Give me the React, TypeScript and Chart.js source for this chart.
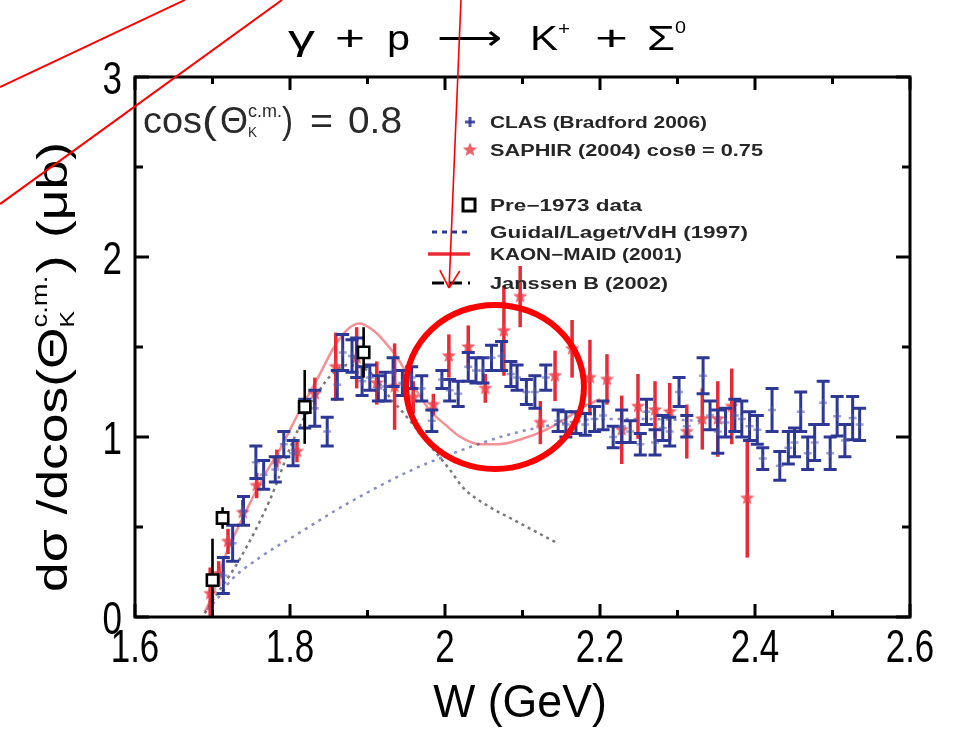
import { useEffect, useRef } from "react";
import { Chart, registerables } from "chart.js";

Chart.register(...registerables);

// ---------- measured cross sections, W in GeV, dσ/dcos in μb ----------
// CLAS (Bradford 2006)
const clasW = [
  1.714, 1.726, 1.740, 1.756, 1.766, 1.781, 1.792, 1.804, 1.819, 1.832,
  1.848, 1.861, 1.868, 1.880, 1.886, 1.893, 1.903, 1.914, 1.923, 1.933,
  1.945, 1.957, 1.970, 1.983, 1.996, 2.006, 2.017, 2.030, 2.040, 2.049,
  2.060, 2.073, 2.085, 2.093, 2.105, 2.116, 2.130, 2.146, 2.156, 2.169,
  2.181, 2.193, 2.204, 2.217, 2.228, 2.239, 2.252, 2.260, 2.271, 2.281,
  2.290, 2.302, 2.312, 2.333, 2.342, 2.352, 2.362, 2.374, 2.383, 2.393,
  2.403, 2.410, 2.422, 2.432, 2.443, 2.451, 2.459, 2.468, 2.477, 2.488,
  2.497, 2.506, 2.516, 2.526, 2.535,
];
const clasSigma = [
  0.23, 0.41, 0.59, 0.86, 0.79, 0.82, 0.96, 0.91, 1.13, 1.16,
  1.03, 1.29, 1.47, 1.45, 1.44, 1.31, 1.33, 1.27, 1.28, 1.36,
  1.30, 1.33, 1.27, 1.09, 1.32, 1.26, 1.24, 1.39, 1.37, 1.37,
  1.44, 1.45, 1.35, 1.33, 1.25, 1.25, 1.33, 1.09, 1.07, 1.08,
  1.07, 1.10, 1.12, 1.00, 1.06, 1.03, 0.96, 1.14, 0.97, 1.05,
  1.03, 1.25, 1.06, 1.34, 1.12, 1.03, 1.08, 1.12, 1.10, 1.06,
  1.04, 0.88, 1.15, 0.84, 0.94, 0.97, 1.14, 0.91, 0.97, 1.19,
  0.91, 1.115, 0.98, 1.105, 1.07,
];
const clasErr = [
  0.10, 0.10, 0.08, 0.09, 0.08, 0.07, 0.07, 0.07, 0.08, 0.10,
  0.08, 0.08, 0.10, 0.09, 0.11, 0.08, 0.07, 0.07, 0.08, 0.08,
  0.07, 0.06, 0.07, 0.06, 0.05, 0.06, 0.07, 0.08, 0.07, 0.07,
  0.07, 0.08, 0.07, 0.07, 0.07, 0.09, 0.07, 0.06, 0.07, 0.06,
  0.06, 0.07, 0.08, 0.06, 0.09, 0.06, 0.06, 0.07, 0.07, 0.07,
  0.08, 0.08, 0.06, 0.10, 0.08, 0.12, 0.08, 0.09, 0.10, 0.08,
  0.08, 0.06, 0.12, 0.08, 0.09, 0.08, 0.11, 0.09, 0.10, 0.12,
  0.09, 0.11, 0.09, 0.12, 0.09,
];

// SAPHIR (2004), cosθ = 0.75
const saphirW = [
  1.697, 1.708, 1.720, 1.739, 1.757, 1.783, 1.809, 1.832, 1.859, 1.886,
  1.912, 1.935, 1.959, 1.985, 2.005, 2.030, 2.052, 2.076, 2.097, 2.123,
  2.142, 2.164, 2.187, 2.209, 2.228, 2.249, 2.271, 2.290, 2.312, 2.332,
  2.352, 2.370, 2.390,
];
const saphirSigma = [
  0.13, 0.24, 0.42, 0.58, 0.73, 0.88, 0.92, 1.24, 1.39, 1.44,
  1.30, 1.28, 1.22, 1.18, 1.45, 1.50, 1.27, 1.59, 1.78, 1.08,
  1.34, 1.49, 1.33, 1.32, 1.04, 1.17, 1.15, 1.14, 1.03, 1.10,
  1.10, 1.17, 0.66,
];
const saphirErr = [
  0.145, 0.07, 0.07, 0.07, 0.07, 0.05, 0.06, 0.09, 0.19, 0.17,
  0.12, 0.24, 0.09, 0.06, 0.12, 0.12, 0.08, 0.25, 0.17, 0.12,
  0.14, 0.16, 0.21, 0.14, 0.19, 0.18, 0.16, 0.16, 0.15, 0.17,
  0.21, 0.21, 0.33,
];

// Pre-1973 data
const pre73W = [1.700, 1.713, 1.819, 1.895];
const pre73Sigma = [0.205, 0.55, 1.167, 1.47];
const pre73Err = [0.23, 0.06, 0.205, 0.14];

// ---------- model curves ----------
const guidalW = [1.693, 1.706, 1.723, 1.761, 1.813, 1.874, 1.959, 2.017, 2.088, 2.157, 2.200, 2.260, 2.330];
const guidalSigma = [0.04, 0.10, 0.20, 0.33, 0.47, 0.63, 0.82, 0.92, 1.02, 1.08, 1.10, 1.10, 1.09];

const maidW = [
  1.690, 1.700, 1.714, 1.740, 1.766, 1.788, 1.813, 1.835, 1.857, 1.875,
  1.890, 1.905, 1.920, 1.940, 1.960, 1.980, 2.000, 2.020, 2.045, 2.070,
  2.100, 2.130, 2.155, 2.180, 2.200,
];
const maidSigma = [
  0.03, 0.12, 0.31, 0.56, 0.78, 0.94, 1.15, 1.32, 1.50, 1.60,
  1.63, 1.60, 1.54, 1.43, 1.28, 1.15, 1.07, 1.00, 0.96, 0.96,
  0.99, 1.04, 1.10, 1.17, 1.21,
];

const janssenW = [
  1.690, 1.700, 1.735, 1.774, 1.804, 1.830, 1.850, 1.875, 1.903, 1.929,
  1.951, 1.968, 1.985, 2.006, 2.023, 2.058, 2.084, 2.145,
];
const janssenSigma = [
  0.02, 0.09, 0.32, 0.65, 0.98, 1.20, 1.33, 1.40, 1.36, 1.22,
  1.11, 1.02, 0.93, 0.82, 0.72, 0.61, 0.55, 0.41,
];

// ---------- axes ----------
const xMajorTicks = [1.6, 1.8, 2.0, 2.2, 2.4, 2.6];
const xTickLabels = ["1.6", "1.8", "2", "2.2", "2.4", "2.6"];
const xMinorTicks = [1.7, 1.9, 2.1, 2.3, 2.5];
const yMajorTicks = [0, 1, 2, 3];
const yTickLabels = ["0", "1", "2", "3"];
const yMinorTicks = [0.5, 1.5, 2.5];

const legendLabels = [
  "CLAS (Bradford 2006)",
  "SAPHIR (2004) cosθ = 0.75",
  "Pre−1973 data",
  "Guidal/Laget/VdH (1997)",
  "KAON−MAID (2001)",
  "Janssen B (2002)",
];

// ---------- hand-drawn highlight marks, in (W, dσ/dcos) units ----------
const ringCenter = { x: 2.0645, y: 1.278 };
const ringRadius = { x: 0.1148, y: 0.456 };
const pointerLines = [
  [{ x: 1.4258, y: 2.944 }, { x: 1.6645, y: 3.428 }],
  [{ x: 1.4258, y: 2.294 }, { x: 1.7897, y: 3.428 }],
];
const arrowStart = { x: 2.0206, y: 3.428 };
const arrowTip = { x: 2.0052, y: 1.828 };

const FONT = "'Liberation Sans', Arial, sans-serif";
const BLUE = "#2d3796";
const RED = "#e92a35";

type Seg = { t: string; size: number; dy?: number; w?: number; gap?: number; back?: boolean };

// Draws a run of text pieces (sub/superscripts allowed); optional total width fit.
function drawSegs(ctx: any, segs: Seg[], x: number, y: number, weight: string, fitWidth?: number) {
  const nat = segs.map((s) => {
    ctx.font = `${weight} ${s.size}px ${FONT}`;
    return ctx.measureText(s.t).width;
  });
  let cur = 0;
  let last = 0;
  segs.forEach((s, i) => {
    cur += s.gap ?? 0;
    const st = s.back ? last : cur;
    cur = Math.max(cur, st + (s.w ?? nat[i]));
    last = st;
  });
  const k = fitWidth ? fitWidth / cur : 1;
  cur = 0;
  last = 0;
  segs.forEach((s, i) => {
    cur += (s.gap ?? 0) * k;
    const st = s.back ? last : cur;
    const dw = (s.w ?? nat[i]) * k;
    ctx.save();
    ctx.font = `${weight} ${s.size}px ${FONT}`;
    ctx.textAlign = "left";
    ctx.textBaseline = "alphabetic";
    ctx.translate(x + st, y + (s.dy ?? 0));
    ctx.scale(dw / nat[i], 1);
    ctx.fillText(s.t, 0, 0);
    ctx.restore();
    cur = Math.max(cur, st + dw);
    last = st;
  });
}

function drawText(ctx: any, t: string, x: number, y: number, size: number, sx: number, align: string, weight = "normal") {
  ctx.save();
  ctx.font = `${weight} ${size}px ${FONT}`;
  const w = ctx.measureText(t).width * sx;
  const x0 = align === "center" ? x - w / 2 : align === "right" ? x - w : x;
  ctx.translate(x0, y);
  ctx.scale(sx, 1);
  ctx.textAlign = "left";
  ctx.textBaseline = "alphabetic";
  ctx.fillText(t, 0, 0);
  ctx.restore();
}

function makeStar(): HTMLCanvasElement {
  const c = document.createElement("canvas");
  c.width = 18;
  c.height = 18;
  const g = c.getContext("2d")!;
  g.fillStyle = "rgba(236,62,72,0.82)";
  g.beginPath();
  for (let i = 0; i < 10; i++) {
    const r = i % 2 === 0 ? 7.5 : 3.3;
    const a = -Math.PI / 2 + (i * Math.PI) / 5;
    const px = 9 + r * Math.cos(a);
    const py = 9 + r * Math.sin(a);
    if (i === 0) g.moveTo(px, py);
    else g.lineTo(px, py);
  }
  g.closePath();
  g.fill();
  return c;
}

const pts = (xs: number[], ys: number[]) => xs.map((x, i) => ({ x, y: ys[i] }));

// vertical error bars, drawn just under each dataset's markers
const errorBars = {
  id: "errorBars",
  beforeDatasetDraw(chart: any, args: any) {
    const ds = chart.data.datasets[args.index];
    if (!ds.errs) return;
    const ctx = chart.ctx;
    const xs = chart.scales.x;
    const ys = chart.scales.y;
    const a = chart.chartArea;
    ctx.save();
    ctx.beginPath();
    ctx.rect(a.left, a.top, a.right - a.left, a.bottom - a.top);
    ctx.clip();
    ctx.strokeStyle = ds.barColor;
    ctx.lineWidth = ds.barWidth;
    ctx.lineCap = "butt";
    ds.data.forEach((p: any, i: number) => {
      const e = ds.errs[i];
      const px = xs.getPixelForValue(p.x);
      const y1 = ys.getPixelForValue(p.y - e);
      const y2 = ys.getPixelForValue(p.y + e);
      ctx.beginPath();
      ctx.moveTo(px, y1);
      ctx.lineTo(px, y2);
      if (ds.cap) {
        ctx.moveTo(px - ds.cap, y1);
        ctx.lineTo(px + ds.cap, y1);
        ctx.moveTo(px - ds.cap, y2);
        ctx.lineTo(px + ds.cap, y2);
      }
      ctx.stroke();
    });
    ctx.restore();
  },
};

function makeDecor(star: HTMLCanvasElement) {
  return {
    id: "decor",
    afterDraw(chart: any) {
      const ctx = chart.ctx;
      const xs = chart.scales.x;
      const ys = chart.scales.y;
      const { left, right, top, bottom } = chart.chartArea;
      const line = (x1: number, y1: number, x2: number, y2: number) => {
        ctx.beginPath();
        ctx.moveTo(x1, y1);
        ctx.lineTo(x2, y2);
        ctx.stroke();
      };
      ctx.save();

      // frame and inward ticks on all four sides
      ctx.strokeStyle = "#000";
      ctx.lineWidth = 3;
      ctx.strokeRect(left, top, right - left, bottom - top);
      const tickX = (v: number, len: number) => {
        const px = xs.getPixelForValue(v);
        line(px, bottom, px, bottom - len);
        line(px, top, px, top + len);
      };
      const tickY = (v: number, len: number) => {
        const py = ys.getPixelForValue(v);
        line(left, py, left + len, py);
        line(right, py, right - len, py);
      };
      xMajorTicks.forEach((v) => tickX(v, 13));
      xMinorTicks.forEach((v) => tickX(v, 7));
      yMajorTicks.forEach((v) => tickY(v, 14));
      yMinorTicks.forEach((v) => tickY(v, 8));

      // tick labels
      ctx.fillStyle = "#000";
      xMajorTicks.forEach((v, i) => drawText(ctx, xTickLabels[i], xs.getPixelForValue(v), bottom + 45, 46, 0.76, "center"));
      yMajorTicks.forEach((v, i) => drawText(ctx, yTickLabels[i], left - 13, ys.getPixelForValue(v) + 17, 46, 0.76, "right"));

      // axis titles
      drawText(ctx, "W (GeV)", 520, 717, 46, 0.97, "center");
      ctx.save();
      ctx.translate(67, 592);
      ctx.rotate(-Math.PI / 2);
      drawSegs(
        ctx,
        [
          { t: "dσ /dcos(Θ", size: 43 },
          { t: "K", size: 20, dy: 7 },
          { t: "c.m.", size: 22, dy: -20, back: true },
          { t: ")", size: 43, gap: 2 },
          { t: "(μb)", size: 43, gap: 14 },
        ],
        0,
        0,
        "normal",
        450
      );
      ctx.restore();

      // reaction title
      drawSegs(
        ctx,
        [
          { t: "γ", size: 35, w: 27 },
          { t: "+", size: 35, w: 30, gap: 20 },
          { t: "p", size: 35, w: 23, gap: 22 },
          { t: "⟶", size: 35, w: 65, gap: 27 },
          { t: "K", size: 35, w: 28, gap: 28 },
          { t: "+", size: 18, w: 12, dy: -15 },
          { t: "+", size: 35, w: 33, gap: 25 },
          { t: "Σ", size: 35, w: 28, gap: 19 },
          { t: "0", size: 16, w: 11, dy: -17 },
        ],
        288,
        50,
        "normal"
      );

      // kinematic setting
      ctx.fillStyle = "#2a2a2a";
      drawSegs(
        ctx,
        [
          { t: "cos", size: 37, w: 59 },
          { t: "(", size: 37, w: 15 },
          { t: "Θ", size: 37, w: 28, gap: 3 },
          { t: "K", size: 14, w: 9, dy: 4 },
          { t: "c.m.", size: 18, w: 34, dy: -16, back: true },
          { t: ")", size: 37, w: 11 },
          { t: "=", size: 37, w: 23, gap: 17 },
          { t: "0.8", size: 37, w: 54, gap: 15 },
        ],
        143,
        133,
        "normal"
      );

      // legend
      const rows = [122, 150, 205, 232, 254, 283];
      const widths = [217, 273, 152, 258, 192, 178];
      ctx.fillStyle = "#262626";
      legendLabels.forEach((t, i) => drawSegs(ctx, [{ t, size: 16, w: widths[i] }], 490, rows[i] + 6, "bold"));
      ctx.strokeStyle = "rgba(45,55,155,0.85)";
      ctx.lineWidth = 3;
      line(465, rows[0], 475, rows[0]);
      line(470, rows[0] - 5, 470, rows[0] + 5);
      ctx.drawImage(star, 470 - 9, rows[1] - 9);
      ctx.strokeStyle = "#000";
      ctx.strokeRect(463, rows[2] - 6, 12, 12);
      ctx.strokeStyle = BLUE;
      ctx.setLineDash([5, 5]);
      line(432, rows[3], 470, rows[3]);
      ctx.setLineDash([]);
      ctx.strokeStyle = RED;
      ctx.lineWidth = 3.5;
      line(428, rows[4], 470, rows[4]);
      ctx.strokeStyle = "#000";
      ctx.lineWidth = 3;
      ctx.setLineDash([12, 6]);
      line(432, rows[5], 470, rows[5]);
      ctx.setLineDash([]);

      // red highlight: ring, pointer lines and arrow
      ctx.strokeStyle = "#ff0000";
      const cx = xs.getPixelForValue(ringCenter.x);
      const cy = ys.getPixelForValue(ringCenter.y);
      const rx = xs.getPixelForValue(ringCenter.x + ringRadius.x) - cx;
      const ry = cy - ys.getPixelForValue(ringCenter.y + ringRadius.y);
      ctx.lineWidth = 6;
      ctx.beginPath();
      ctx.ellipse(cx, cy, rx, ry, 0, 0, Math.PI * 2);
      ctx.stroke();
      ctx.lineWidth = 2;
      pointerLines.forEach(([p, q]) =>
        line(xs.getPixelForValue(p.x), ys.getPixelForValue(p.y), xs.getPixelForValue(q.x), ys.getPixelForValue(q.y))
      );
      const sx = xs.getPixelForValue(arrowStart.x);
      const sy = ys.getPixelForValue(arrowStart.y);
      const tx = xs.getPixelForValue(arrowTip.x);
      const ty = ys.getPixelForValue(arrowTip.y);
      ctx.lineWidth = 1.6;
      line(sx, sy, tx, ty);
      const ang = Math.atan2(ty - sy, tx - sx);
      [-0.52, 0.52].forEach((d) =>
        line(tx, ty, tx - 20 * Math.cos(ang + d), ty - 20 * Math.sin(ang + d))
      );
      ctx.restore();
    },
  };
}

export default function App() {
  const ref = useRef<HTMLCanvasElement>(null);

  useEffect(() => {
    const star = makeStar();
    const chart = new Chart(ref.current!, {
      type: "scatter",
      data: {
        datasets: [
          {
            label: legendLabels[2],
            data: pts(pre73W, pre73Sigma),
            pointStyle: "rect",
            pointRadius: 8,
            borderColor: "#000",
            backgroundColor: "#fff",
            borderWidth: 2.6,
            order: 0,
            errs: pre73Err,
            barColor: "#000",
            barWidth: 2.6,
            cap: 0,
          } as any,
          {
            label: legendLabels[0],
            data: pts(clasW, clasSigma),
            pointStyle: "cross",
            pointRadius: 4,
            borderColor: "rgba(80,90,170,0.55)",
            borderWidth: 2.5,
            order: 1,
            errs: clasErr,
            barColor: BLUE,
            barWidth: 3,
            cap: 6.5,
          } as any,
          {
            label: legendLabels[1],
            data: pts(saphirW, saphirSigma),
            pointStyle: star,
            pointRadius: 8,
            order: 2,
            errs: saphirErr,
            barColor: RED,
            barWidth: 3.5,
            cap: 0,
          } as any,
          {
            label: legendLabels[3],
            data: pts(guidalW, guidalSigma),
            showLine: true,
            pointRadius: 0,
            borderColor: "rgba(70,80,165,0.65)",
            borderWidth: 2.5,
            borderDash: [3, 5],
            cubicInterpolationMode: "monotone",
            order: 3,
          } as any,
          {
            label: legendLabels[5],
            data: pts(janssenW, janssenSigma),
            showLine: true,
            pointRadius: 0,
            borderColor: "rgba(50,50,50,0.65)",
            borderWidth: 2.5,
            borderDash: [3, 4],
            cubicInterpolationMode: "monotone",
            order: 4,
          } as any,
          {
            label: legendLabels[4],
            data: pts(maidW, maidSigma),
            showLine: true,
            pointRadius: 0,
            borderColor: "rgba(236,70,80,0.6)",
            borderWidth: 2.5,
            cubicInterpolationMode: "monotone",
            order: 5,
          } as any,
        ],
      },
      options: {
        animation: false,
        responsive: false,
        devicePixelRatio: 1,
        events: [],
        layout: { padding: { left: 135, top: 77, right: 45, bottom: 116 } },
        plugins: { legend: { display: false }, tooltip: { enabled: false } },
        scales: {
          x: { type: "linear", min: 1.6, max: 2.6, display: false },
          y: { type: "linear", min: 0, max: 3, display: false },
        },
      },
      plugins: [errorBars, makeDecor(star)],
    } as any);
    return () => chart.destroy();
  }, []);

  return (
    <div style={{ position: "fixed", left: 0, top: 0, width: 955, height: 733, background: "#fff" }}>
      <canvas ref={ref} width={955} height={733} style={{ display: "block", width: 955, height: 733 }} />
    </div>
  );
}
